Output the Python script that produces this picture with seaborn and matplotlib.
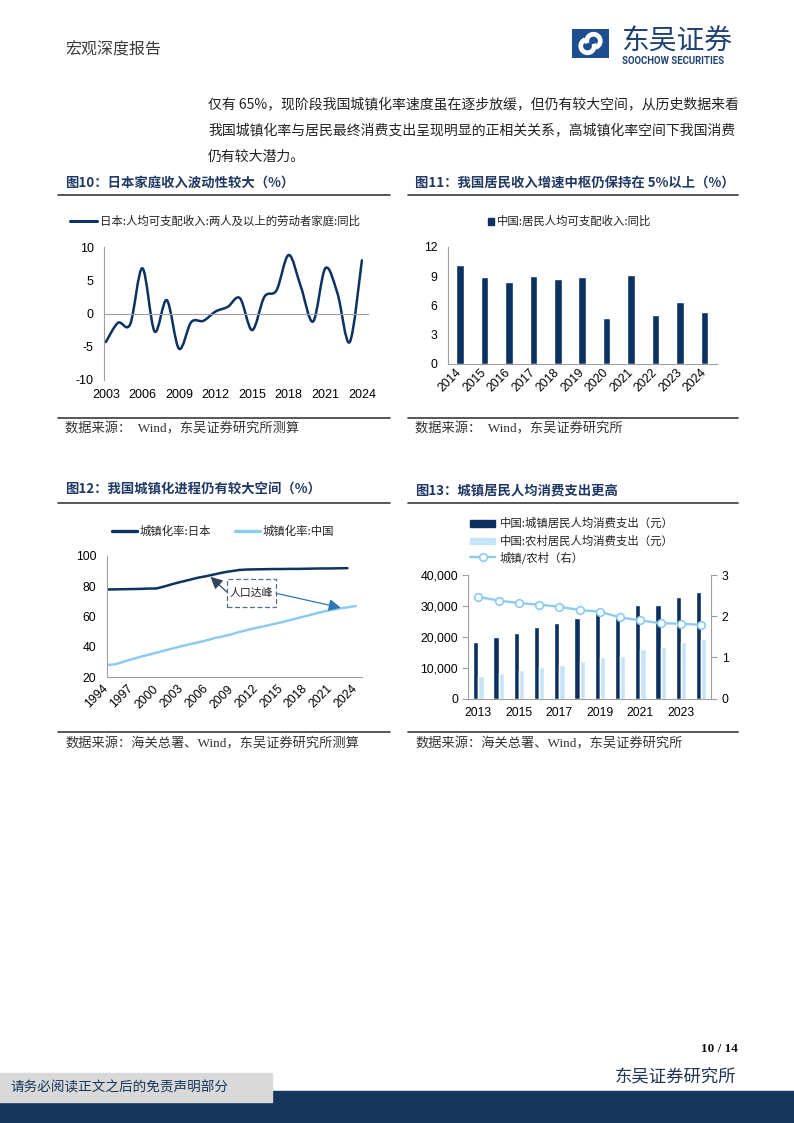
import numpy as np
import pandas as pd
import matplotlib
matplotlib.use("Agg")
import matplotlib.pyplot as plt
import seaborn as sns
from matplotlib.path import Path
from matplotlib.patches import PathPatch, Rectangle, Arc
from matplotlib.lines import Line2D
from matplotlib.ticker import FuncFormatter, FixedLocator

# ---------------- data ----------------
jp_years = list(range(2003, 2025))
jp_income_yoy = [-4.3, -1.4, -1.6, 6.8, -2.7, 2.0, -5.3, -1.3, -1.1, 0.3, 1.0,
                 2.3, -2.5, 2.5, 3.5, 8.8, 4.0, -1.2, 6.8, 3.0, -4.3, 8.0]
jp_xticks = [2003, 2006, 2009, 2012, 2015, 2018, 2021, 2024]

cn_years = [str(y) for y in range(2014, 2025)]
cn_income_yoy = [10.1, 8.9, 8.4, 9.0, 8.7, 8.9, 4.7, 9.1, 5.0, 6.3, 5.3]

urb_years_jp = list(range(1994, 2024))
urb_jp = [77.9, 78.0, 78.1, 78.2, 78.3, 78.5, 78.6, 80.0, 81.6, 83.0, 84.3, 85.7,
          86.7, 87.9, 89.1, 90.0, 90.8, 91.1, 91.2, 91.3, 91.4, 91.4, 91.5, 91.5,
          91.6, 91.7, 91.8, 91.8, 91.9, 92.0]
urb_years_cn = list(range(1994, 2025))
urb_cn = [28.0, 28.6, 30.2, 31.9, 33.4, 34.8, 36.2, 37.7, 39.1, 40.5, 41.8, 43.0,
          44.3, 45.9, 47.0, 48.3, 49.9, 51.3, 52.6, 53.7, 55.0, 56.2, 57.6, 59.0,
          60.4, 61.8, 63.2, 64.4, 65.2, 66.2, 67.0]
urb_xticks = list(range(1994, 2025, 3))

cons_years = [str(y) for y in range(2013, 2025)]
urban_cons = [18488, 19968, 21392, 23079, 24445, 26112, 28063, 27007, 30307, 30391, 32994, 34557]
rural_cons = [7485, 8383, 9223, 10130, 10955, 12124, 13328, 13713, 15916, 16632, 18175, 19280]
urban_rural_ratio = [2.47, 2.38, 2.32, 2.28, 2.23, 2.15, 2.11, 1.97, 1.90, 1.83, 1.82, 1.79]

# ---------------- style ----------------
sns.set_theme(style="white")
plt.rcParams["font.family"] = ["Liberation Sans", "Noto Sans CJK SC", "DejaVu Sans"]
plt.rcParams["axes.unicode_minus"] = False

NAVY = "#0c3262"
TITLE = "#1f3864"
LIGHT_LINE = "#8dcbf1"
LIGHT_BAR = "#c6e4f8"
SPINE = "#a0a0a0"
CJK = ["Noto Sans CJK SC", "DejaVu Sans"]
SERIF = ["Liberation Serif", "Noto Sans CJK SC"]

W, H = 794, 1123
fig = plt.figure(figsize=(W / 100, H / 100), dpi=100)
fig.patch.set_facecolor("white")


def axes_px(l, t, r, b):
    return fig.add_axes([l / W, 1 - b / H, (r - l) / W, (b - t) / H])


def T(x, y, s, **kw):
    kw.setdefault("va", "center")
    return fig.text(x / W, 1 - y / H, s, **kw)


def hline(x0, x1, y, color="#3a3a3a", lw=1.2):
    fig.add_artist(Line2D([x0 / W, x1 / W], [1 - y / H, 1 - y / H],
                          transform=fig.transFigure, color=color, lw=lw))


def style_axis(ax, fs=8.5):
    for s in ["top", "right"]:
        ax.spines[s].set_visible(False)
    for s in ["left", "bottom"]:
        ax.spines[s].set_color(SPINE)
        ax.spines[s].set_linewidth(0.8)
    ax.tick_params(axis="both", which="both", direction="out", colors=SPINE,
                   labelcolor="black", labelsize=fs, width=0.8, length=3)
    ax.grid(False)
    ax.set_xlabel("")
    ax.set_ylabel("")


# ---------------- page header ----------------
T(65, 50, "宏观深度报告", family=CJK, fontsize=11.5, color="#3a3a3a")
logo = axes_px(572, 29, 609, 58)
logo.set_xlim(0, 37)
logo.set_ylim(0, 29)
logo.axis("off")
logo.add_patch(Rectangle((0, 0), 37, 29, color="#1d4f90"))
logo.add_patch(Arc((21.5, 17), 13.5, 13.5, theta1=-70, theta2=200, color="white", lw=3.4))
logo.add_patch(Arc((15.5, 12), 13.5, 13.5, theta1=110, theta2=380, color="white", lw=3.4))
T(621, 42, "东吴证券", family=CJK, fontsize=20, color="#1f4173")
T(622, 61.5, "SOOCHOW SECURITIES", family=["Roboto", "DejaVu Sans"], fontsize=6.9,
  fontweight="bold", color="#1f4173")

body = ["仅有 65%，现阶段我国城镇化率速度虽在逐步放缓，但仍有较大空间，从历史数据来看",
        "我国城镇化率与居民最终消费支出呈现明显的正相关关系，高城镇化率空间下我国消费",
        "仍有较大潜力。"]
for i, line in enumerate(body):
    T(208, 105 + i * 26, line, family=CJK, fontsize=10.0, color="#222222")

# ---------------- titles / sources ----------------
TFS = 9.6
T(65, 183, "图10：日本家庭收入波动性较大（%）", family=CJK, fontsize=TFS, fontweight="bold", color=TITLE)
T(415, 183, "图11：我国居民收入增速中枢仍保持在 5%以上（%）", family=CJK, fontsize=TFS, fontweight="bold", color=TITLE)
T(65, 490, "图12：我国城镇化进程仍有较大空间（%）", family=CJK, fontsize=TFS, fontweight="bold", color=TITLE)
T(415, 490, "图13：城镇居民人均消费支出更高", family=CJK, fontsize=TFS, fontweight="bold", color=TITLE)
for x0, x1 in [(58, 390), (408, 738)]:
    hline(x0, x1, 194.5)
    hline(x0, x1, 418)
    hline(x0, x1, 502.5)
    hline(x0, x1, 732)
SFS = 9.5
T(65, 429, "数据来源：  Wind，东吴证券研究所测算", family=SERIF, fontsize=SFS, color="#333333")
T(415, 429, "数据来源：  Wind，东吴证券研究所", family=SERIF, fontsize=SFS, color="#333333")
T(65, 744, "数据来源：海关总署、Wind，东吴证券研究所测算", family=SERIF, fontsize=SFS, color="#333333")
T(415, 744, "数据来源：海关总署、Wind，东吴证券研究所", family=SERIF, fontsize=SFS, color="#333333")

# ---------------- chart 10: Japan income (smoothed line) ----------------
ax1 = axes_px(104, 247, 368, 380)
ax1.set_xlim(2002.85, 2024.5)
ax1.set_ylim(-10, 10)
pts = np.column_stack([np.array(jp_years, float), np.array(jp_income_yoy, float)])
n = len(pts)
verts = [tuple(pts[0])]
codes = [Path.MOVETO]
for i in range(n - 1):
    p0 = pts[i - 1] if i > 0 else pts[i]
    p1 = pts[i]
    p2 = pts[i + 1]
    p3 = pts[i + 2] if i + 2 < n else pts[i + 1]
    c1 = p1 + (p2 - p0) / 6.0
    c2 = p2 - (p3 - p1) / 6.0
    verts += [tuple(c1), tuple(c2), tuple(p2)]
    codes += [Path.CURVE4] * 3
ax1.add_patch(PathPatch(Path(verts, codes), fill=False, edgecolor=NAVY, lw=1.8,
                        transform=ax1.transData, capstyle="round", joinstyle="round"))
style_axis(ax1, fs=9)
ax1.spines["bottom"].set_position(("data", 0))
ax1.set_yticks([-10, -5, 0, 5, 10])
ax1.set_xticks(jp_xticks)
ax1.set_xticklabels([str(t) for t in jp_xticks])
ax1.tick_params(axis="x", pad=51, length=3)
ax1.tick_params(axis="y", length=4)
fig.add_artist(Line2D([70 / W, 97 / W], [1 - 220.7 / H] * 2, transform=fig.transFigure,
                      color=NAVY, lw=2.2))
T(100, 220.7, "日本:人均可支配收入:两人及以上的劳动者家庭:同比", family=CJK, fontsize=8.2, color="#222222")

# ---------------- chart 11: China income bars ----------------
ax2 = axes_px(447.7, 246.7, 716.7, 364)
df2 = pd.DataFrame({"year": cn_years, "val": cn_income_yoy})
sns.barplot(data=df2, x="year", y="val", color=NAVY, saturation=1, width=0.31, ax=ax2)
style_axis(ax2, fs=8.7)
ax2.set_xlim(-0.5, len(cn_years) - 0.5)
ax2.set_ylim(0, 12)
ax2.set_yticks([0, 3, 6, 9, 12])
ax2.xaxis.set_minor_locator(FixedLocator(np.arange(-0.5, len(cn_years), 1.0)))
ax2.tick_params(axis="x", which="major", length=0, pad=5)
ax2.tick_params(axis="x", which="minor", length=3)
ax2.tick_params(axis="y", length=4)
for lab in ax2.get_xticklabels():
    lab.set_rotation(45)
    lab.set_ha("right")
    lab.set_va("center")
    lab.set_rotation_mode("anchor")
fig.add_artist(Rectangle((488.3 / W, 1 - 224.5 / H), 5.5 / W, 6.5 / H, transform=fig.transFigure,
                         color=NAVY))
T(497, 221.5, "中国:居民人均可支配收入:同比", family=CJK, fontsize=8.2, color="#222222")

# ---------------- chart 12: urbanization ----------------
ax3 = axes_px(106.7, 556, 361.7, 677.3)
sns.lineplot(x=urb_years_jp, y=urb_jp, color="#0f3361", lw=1.8, ax=ax3)
sns.lineplot(x=urb_years_cn, y=urb_cn, color=LIGHT_LINE, lw=1.8, ax=ax3)
style_axis(ax3, fs=8.7)
ax3.set_xlim(1994, 2024.72)
ax3.set_ylim(20, 100)
ax3.set_yticks([20, 40, 60, 80, 100])
ax3.set_xticks(urb_xticks)
ax3.set_xticklabels([str(t) for t in urb_xticks])
ax3.tick_params(axis="x", length=3, pad=4)
ax3.tick_params(axis="y", length=4)
for lab in ax3.get_xticklabels():
    lab.set_rotation(45)
    lab.set_ha("right")
    lab.set_va("center")
    lab.set_rotation_mode("anchor")
# annotation
ax3.add_patch(Rectangle((2008.5, 66.2), 5.9, 18.6, fill=True, facecolor="white",
                        edgecolor="#5b6f88", ls=(0, (4, 2)), lw=0.9, zorder=4))
ax3.text(2011.45, 75.5, "人口达峰", family=CJK, fontsize=7.8, ha="center", va="center",
         color="#222222", zorder=5)
ax3.annotate("", xy=(2006.5, 86.3), xytext=(2008.5, 76.2),
             arrowprops=dict(arrowstyle="-|>,head_length=0.6,head_width=0.3", color="#34455e",
                             lw=0.9, shrinkA=0, shrinkB=0), zorder=5)
ax3.annotate("", xy=(2022.2, 65.9), xytext=(2014.4, 75.4),
             arrowprops=dict(arrowstyle="-|>,head_length=0.6,head_width=0.3", color="#2e75b6",
                             lw=0.9, shrinkA=0, shrinkB=0), zorder=5)
fig.add_artist(Line2D([112 / W, 137 / W], [1 - 531 / H] * 2, transform=fig.transFigure,
                      color="#0f3361", lw=2.4))
T(140, 531, "城镇化率:日本", family=CJK, fontsize=8.2, color="#222222")
fig.add_artist(Line2D([235 / W, 260 / W], [1 - 531 / H] * 2, transform=fig.transFigure,
                      color=LIGHT_LINE, lw=2.4))
T(263, 531, "城镇化率:中国", family=CJK, fontsize=8.2, color="#222222")

# ---------------- chart 13: consumption ----------------
lab_u = "中国:城镇居民人均消费支出（元）"
lab_r = "中国:农村居民人均消费支出（元）"
lab_ratio = "城镇/农村（右）"
ax4 = axes_px(468.3, 575, 711.3, 698.7)
df4 = pd.DataFrame({"year": cons_years * 2,
                    "type": [lab_u] * len(cons_years) + [lab_r] * len(cons_years),
                    "val": urban_cons + rural_cons})
sns.barplot(data=df4, x="year", y="val", hue="type", hue_order=[lab_u, lab_r],
            palette=["#0b2f5e", LIGHT_BAR], saturation=1, width=0.52, ax=ax4, legend=False)
style_axis(ax4, fs=8.7)
ax4.set_xlim(-0.5, len(cons_years) - 0.5)
ax4.set_ylim(0, 40000)
ax4.set_yticks([0, 10000, 20000, 30000, 40000])
ax4.yaxis.set_major_formatter(FuncFormatter(lambda v, p: f"{int(v):,}"))
ax4.set_xticks(np.arange(0, len(cons_years), 2))
ax4.set_xticklabels(cons_years[::2])
ax4.xaxis.set_minor_locator(FixedLocator(np.arange(-0.5, len(cons_years), 2.0)))
ax4.tick_params(axis="x", which="major", length=0, pad=6)
ax4.tick_params(axis="x", which="minor", length=3)
ax4.tick_params(axis="y", length=4)

ax4r = ax4.twinx()
sns.lineplot(x=np.arange(len(cons_years)), y=urban_rural_ratio, ax=ax4r, color=LIGHT_LINE,
             lw=1.7, marker="o", markersize=5.5, markerfacecolor="white",
             markeredgecolor=LIGHT_LINE, markeredgewidth=1.2)
ax4r.set_ylim(0, 3)
ax4r.set_yticks([0, 1, 2, 3])
ax4r.set_xlim(-0.5, len(cons_years) - 0.5)
for s in ["top", "left", "bottom"]:
    ax4r.spines[s].set_visible(False)
ax4r.spines["right"].set_color(SPINE)
ax4r.spines["right"].set_linewidth(0.8)
ax4r.tick_params(axis="y", direction="out", colors=SPINE, labelcolor="black", labelsize=8.7,
                 width=0.8, length=4)
ax4r.grid(False)
ax4r.set_ylabel("")

fig.add_artist(Rectangle((470 / W, 1 - 526.5 / H), 25 / W, 6.5 / H, transform=fig.transFigure,
                         color="#0b2f5e"))
T(500, 523.3, lab_u, family=CJK, fontsize=8.2, color="#222222")
fig.add_artist(Rectangle((470 / W, 1 - 544 / H), 25 / W, 6.5 / H, transform=fig.transFigure,
                         color=LIGHT_BAR))
T(500, 540.7, lab_r, family=CJK, fontsize=8.2, color="#222222")
fig.add_artist(Line2D([470 / W, 495 / W], [1 - 557.3 / H] * 2, transform=fig.transFigure,
                      color=LIGHT_LINE, lw=1.7))
fig.add_artist(Line2D([482.5 / W], [1 - 557.3 / H], transform=fig.transFigure, marker="o",
                      markersize=5.5, markerfacecolor="white", markeredgecolor=LIGHT_LINE,
                      markeredgewidth=1.2, lw=0))
T(500, 557.3, lab_ratio, family=CJK, fontsize=8.2, color="#222222")

# ---------------- footer ----------------
T(738, 1049, "10 / 14", family=["Liberation Serif"], fontsize=9.5, fontweight="bold",
  ha="right", color="#111111")
T(736, 1076, "东吴证券研究所", family=CJK, fontsize=12.5, ha="right", color="#1f3355")
fig.add_artist(Rectangle((0, 0), 1, (1123 - 1091) / H, transform=fig.transFigure, color="#17365d"))
fig.add_artist(Rectangle((0, 1 - 1102 / H), 272 / W, 29 / H, transform=fig.transFigure,
                         color="#d9d9d9"))
T(10, 1087, "请务必阅读正文之后的免责声明部分", family=CJK, fontsize=9.8, color="#17365d")

fig.savefig("out.png", dpi=100, facecolor="white")
